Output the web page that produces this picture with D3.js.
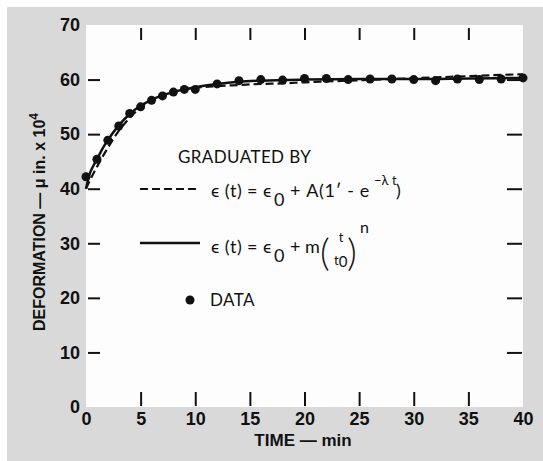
<!DOCTYPE html>
<html>
<head>
<meta charset="utf-8">
<script src="https://cdn.jsdelivr.net/npm/d3@7"></script>
<style>
  body { margin: 0; background: #fff; }
  svg text { fill: #111; }
</style>
</head>
<body>
<div id="chart"></div>
<script>
// ── Data ──
const dataTime  = [0, 1, 2, 3, 4, 5, 6, 7, 8, 9, 10, 12, 14, 16, 18, 20, 22, 24, 26, 28, 30, 32, 34, 36, 38, 40];
const dataValue = [42.2, 45.4, 48.9, 51.5, 53.8, 55.0, 56.2, 57.0, 57.7, 58.2, 58.2, 59.2, 59.8, 60.0, 59.9, 60.2,
                   60.2, 60.0, 60.1, 60.1, 60.0, 59.8, 60.1, 60.0, 60.1, 60.3];

// exponential fit (dashed)
const expTime  = [0, 0.5, 1, 1.5, 2, 3, 4, 5, 6, 7, 8, 9, 10, 12, 14, 16, 18, 20, 24, 28, 32, 36, 40];
const expValue = [40, 42.1, 44.0, 45.8, 47.5, 50.6, 53.0, 54.9, 56.3, 57.2, 57.8, 58.2, 58.5, 58.8, 59.0, 59.2,
                  59.3, 59.5, 59.8, 60.1, 60.4, 60.7, 61.0];

// power law fit (solid)
const powTime  = [0, 0.3, 0.7, 1, 1.5, 2, 3, 4, 5, 6, 7, 8, 9, 10, 12, 14, 16, 20, 25, 30, 35, 40];
const powValue = [40, 42.5, 44.3, 45.4, 47.3, 48.9, 51.6, 53.7, 55.2, 56.3, 57.1, 57.7, 58.2, 58.6, 59.2, 59.6,
                  59.8, 60.0, 60.1, 60.1, 60.2, 60.3];

const xTickLabels = [0, 5, 10, 15, 20, 25, 30, 35, 40];
const yTickLabels = [0, 10, 20, 30, 40, 50, 60, 70];
const xTickMarks  = [5, 10, 15, 20, 25, 30, 35];
const yTickMarks  = [10, 20, 30, 40, 50, 60];

const W = 543, H = 461;
const plot = { left: 86, right: 523, top: 25, bottom: 407 };
const tickFont = "'Liberation Sans Narrow', 'Liberation Sans', Arial, sans-serif";
const legendFont = "Lato, 'Open Sans', sans-serif";

const svg = d3.select('#chart').append('svg')
  .attr('width', W).attr('height', H);

// Background
svg.append('rect').attr('x', 7).attr('y', 7).attr('width', W - 7).attr('height', H - 7).attr('fill', '#d9d9d9');
svg.append('rect')
  .attr('x', plot.left).attr('y', plot.top)
  .attr('width', plot.right - plot.left).attr('height', plot.bottom - plot.top)
  .attr('fill', '#fdfdfd');

const x = d3.scaleLinear().domain([0, 40]).range([plot.left, plot.right]);
const y = d3.scaleLinear().domain([0, 70]).range([plot.bottom, plot.top]);

// ── Tick marks (inward) ──
function styleTicks(g) {
  g.select('.domain').remove();
  g.selectAll('line').attr('stroke', '#111').attr('stroke-width', 2);
}
svg.append('g').attr('transform', 'translate(0,40)')
  .call(d3.axisTop(x).tickValues(xTickMarks).tickSize(12).tickFormat(''))
  .call(styleTicks);
svg.append('g').attr('transform', 'translate(0,392)')
  .call(d3.axisBottom(x).tickValues(xTickMarks).tickSize(14).tickFormat(''))
  .call(styleTicks);
svg.append('g').attr('transform', 'translate(100,0)')
  .call(d3.axisLeft(y).tickValues(yTickMarks).tickSize(12).tickFormat(''))
  .call(styleTicks);
svg.append('g').attr('transform', 'translate(507,0)')
  .call(d3.axisRight(y).tickValues(yTickMarks).tickSize(15).tickFormat(''))
  .call(styleTicks);

// ── Tick labels ──
const xLab = svg.append('g').attr('transform', `translate(0,${plot.bottom})`)
  .call(d3.axisBottom(x).tickValues(xTickLabels).tickSize(0).tickPadding(5));
xLab.select('.domain').remove();
xLab.selectAll('text').attr('font-family', tickFont).attr('font-weight', 'bold')
  .style('font-size', '18px').attr('fill', '#111');

const yLab = svg.append('g').attr('transform', `translate(${plot.left},0)`)
  .call(d3.axisLeft(y).tickValues(yTickLabels).tickSize(0).tickPadding(6));
yLab.select('.domain').remove();
yLab.selectAll('text').attr('font-family', tickFont).attr('font-weight', 'bold')
  .style('font-size', '18px').attr('fill', '#111');

// ── Axis titles ──
svg.append('text')
  .attr('x', 303).attr('y', 446).attr('text-anchor', 'middle')
  .attr('font-family', tickFont).attr('font-weight', 'bold').style('font-size', '17px')
  .text('TIME \u2014 min');

const yTitle = svg.append('text')
  .attr('transform', 'translate(45,222) rotate(-90)')
  .attr('text-anchor', 'middle')
  .attr('font-family', tickFont).attr('font-weight', 'bold').style('font-size', '16px');
yTitle.append('tspan').text('DEFORMATION \u2014 \u03bc in. x 10');
yTitle.append('tspan').attr('dy', -7).style('font-size', '12px').text('4');

// ── Curves ──
const line = d3.line().x(d => x(d[0])).y(d => y(d[1])).curve(d3.curveMonotoneX);

svg.append('path').datum(d3.zip(expTime, expValue))
  .attr('fill', 'none').attr('stroke', '#111').attr('stroke-width', 2.2)
  .attr('stroke-dasharray', '8,4').attr('d', line);

svg.append('path').datum(d3.zip(powTime, powValue))
  .attr('fill', 'none').attr('stroke', '#111').attr('stroke-width', 2.5)
  .attr('d', line);

svg.selectAll('.dot')
  .data(d3.zip(dataTime, dataValue)).enter().append('circle')
  .attr('cx', d => x(d[0])).attr('cy', d => y(d[1]))
  .attr('r', 4.5).attr('fill', '#111');

// ── Legend ──
const leg = svg.append('g')
  .attr('font-family', legendFont).style('font-size', '18px');

leg.append('text').attr('x', 178).attr('y', 163).style('font-size', '17px')
  .attr('letter-spacing', 0.4).text('GRADUATED BY');

leg.append('line').attr('x1', 140).attr('x2', 198).attr('y1', 189).attr('y2', 189)
  .attr('stroke', '#111').attr('stroke-width', 2.2).attr('stroke-dasharray', '8,4');
const eq1 = leg.append('text').attr('y', 197);
eq1.append('tspan').attr('x', 211).attr('letter-spacing', 0.4).text('\u03f5 (t) = \u03f5');
eq1.append('tspan').attr('x', 274).attr('dy', 9).text('0');
eq1.append('tspan').attr('x', 290).attr('dy', -9).attr('letter-spacing', 0.6).text('+ A(1\u2032 - e');
eq1.append('tspan').attr('x', 374).attr('dy', -12).style('font-size', '13px').text('\u2212\u03bb t');
eq1.append('tspan').attr('x', 396).attr('dy', 12).text(')');

leg.append('line').attr('x1', 140).attr('x2', 200).attr('y1', 243).attr('y2', 243)
  .attr('stroke', '#111').attr('stroke-width', 2.5);
const eq2 = leg.append('text').attr('y', 253);
eq2.append('tspan').attr('x', 211).attr('letter-spacing', 0.4).text('\u03f5 (t) = \u03f5');
eq2.append('tspan').attr('x', 274).attr('dy', 9).text('0');
eq2.append('tspan').attr('x', 290).attr('dy', -9).text('+ m');
leg.append('text').attr('x', 320).attr('y', 266).style('font-size', '38px').attr('font-weight', 300).text('(');
leg.append('text').attr('x', 347).attr('y', 266).style('font-size', '38px').attr('font-weight', 300).text(')');
leg.append('text').attr('x', 341).attr('y', 242).attr('text-anchor', 'middle').style('font-size', '13px').text('t');
const den = leg.append('text').attr('x', 334).attr('y', 265).style('font-size', '13px');
den.append('tspan').text('t');
den.append('tspan').attr('dy', 2).style('font-size', '15px').text('0');
leg.append('text').attr('x', 360).attr('y', 233).style('font-size', '16px').text('n');

leg.append('circle').attr('cx', 190).attr('cy', 300).attr('r', 4.5).attr('fill', '#111');
leg.append('text').attr('x', 210).attr('y', 306).style('font-size', '17px')
  .attr('letter-spacing', 0.4).text('DATA');
</script>
</body>
</html>
